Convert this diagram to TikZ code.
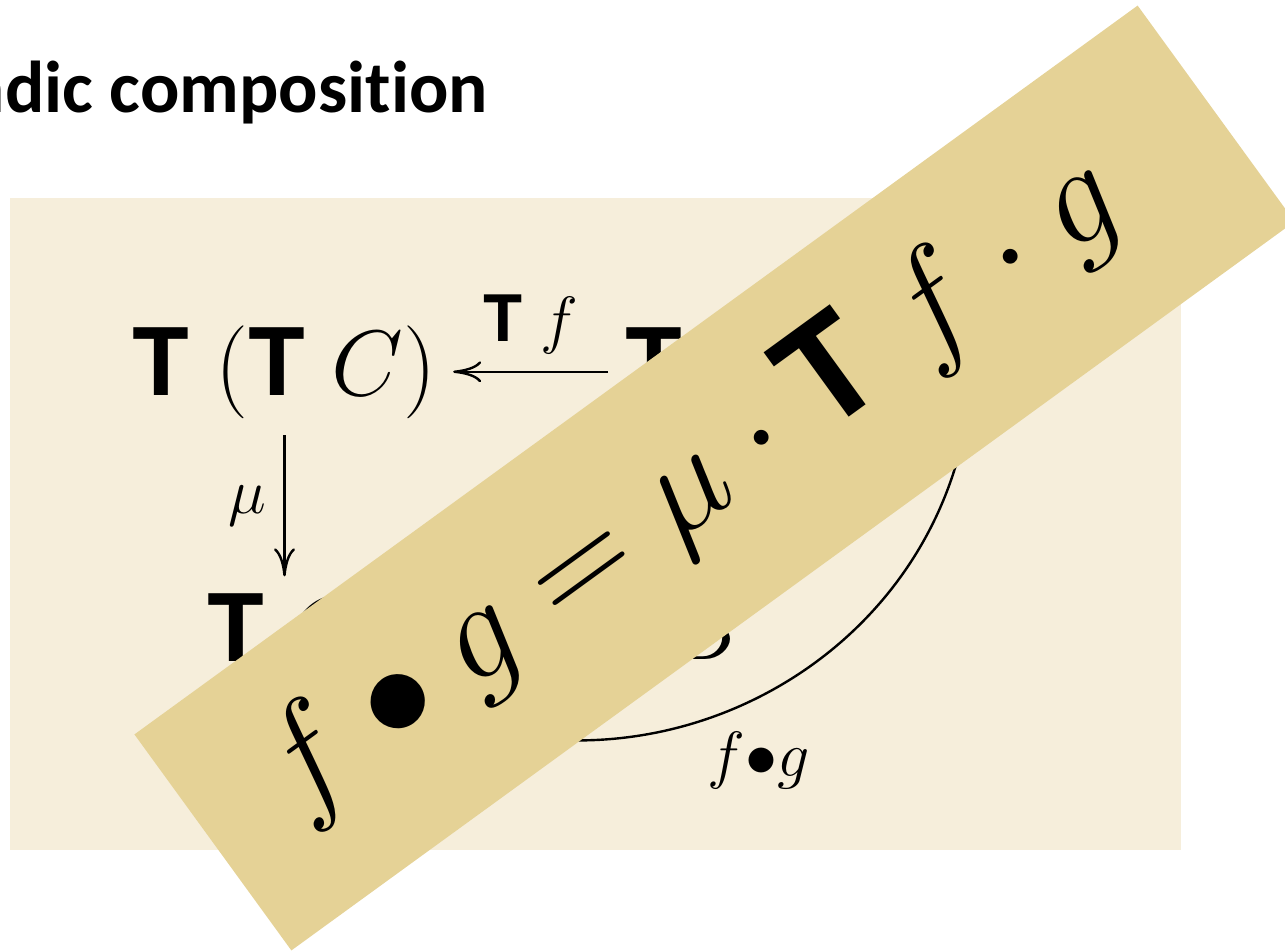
\RequirePackage{fix-cm}
\documentclass[tikz,border=0pt]{standalone}
\usepackage{fontspec}
\usepackage{xcolor}
\usepackage{tikz}
\usetikzlibrary{arrows.meta, positioning}
\newfontfamily\carlito[Ligatures=NoCommon]{Carlito}
\newfontfamily\heros{TeX Gyre Heros}
\definecolor{LinenCream}{HTML}{F6EEDB}
\definecolor{PapyrusGold}{HTML}{E5D296}
\newcommand{\TT}{\mbox{\heros\bfseries T}}

\begin{document}
\begin{tikzpicture}[
    x=1pt, y=1pt,
    node distance=141pt,
    obj/.style={inner sep=17pt, font=\fontsize{93}{100}\selectfont},
    lbl/.style={inner sep=17pt, font=\fontsize{64}{70}\selectfont},
    arr/.style={-{To[length=28pt, width=21pt]}, line width=2.4pt},
    heading/.style={inner sep=0pt, font=\fontsize{73.4}{80}\selectfont\carlito\bfseries},
    strip/.style={
      rectangle, fill=PapyrusGold, rotate=36,
      minimum width=1240pt, minimum height=267pt, inner sep=0pt
    }
  ]
  \path[use as bounding box, clip] (0,0) rectangle (1285,-951);
  \fill[LinenCream] (10,-198) rectangle (1181,-850);
  \node[heading, anchor=base east] (title) at (488,-112) {Monadic composition};

  \node[obj, anchor=base] (ttc) at (284.5,-395) {$\TT\;(\TT\;C)$};
  \node[obj, base right=155pt of ttc] (tb) {$\TT\;B$};
  \node[obj, below=of ttc] (tc) {$\TT\;C$};
  \node[obj] (b) at (tb |- tc) {$B$};
  \coordinate (fgstart) at (972,-372);

  \draw[arr] (tb.west |- ttc.east) -- node[lbl, above] {$\TT\;f$} (ttc.east);
  \draw[arr] (ttc) -- node[lbl, left] {$\mu$} (tc);
  \draw[arr] (fgstart) to[out=-93, in=-32, looseness=1.13]
        node[lbl, pos=0.5, below=17pt] {$f{\bullet}g$} (tc);

  \node[strip] (band) at (714.5,-478) {};
  \node[rotate=36, anchor=base, inner sep=0pt, font=\fontsize{140}{150}\selectfont]
        (law) at (714,-515.5) {$f \bullet g = \mu \cdot \TT\; f \cdot g$};
\end{tikzpicture}
\end{document}
